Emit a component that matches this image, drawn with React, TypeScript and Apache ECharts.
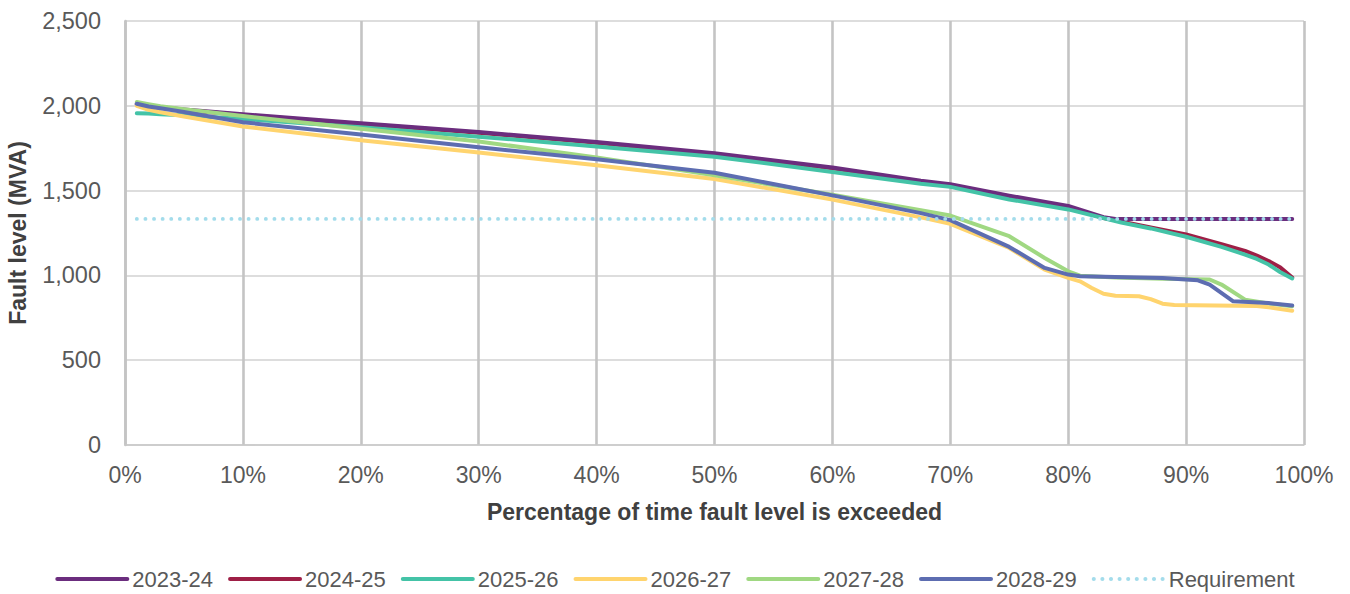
import React, { useEffect, useRef } from "react";
import * as echarts from "echarts";

const seriesNames = ["2023-24", "2024-25", "2025-26", "2026-27", "2027-28", "2028-29", "Requirement"];
const colors = ["#6B2D7E", "#9E1F46", "#44C3A7", "#FFD46E", "#A0D882", "#5D6DB1", "#A3DCEB"];

const s2023: [number, number][] = [
  [1, 2012], [2, 2002], [3, 1992], [5, 1978], [10, 1950], [20, 1897], [30, 1845], [40, 1787], [50, 1720],
  [60, 1636], [67.5, 1558], [70, 1537], [75, 1470], [80, 1410], [83, 1343], [84, 1333], [99, 1333],
];
const s2024: [number, number][] = [
  [1, 2008], [2, 1998], [3, 1989], [5, 1975], [10, 1946], [20, 1893], [30, 1841], [40, 1782], [50, 1715],
  [60, 1631], [67.5, 1553], [70, 1532], [75, 1465], [80, 1404], [83, 1338], [84, 1325], [85, 1310], [87, 1283],
  [90, 1242], [93, 1184], [95, 1145], [96, 1117], [97, 1085], [98, 1046], [99, 988],
];
const s2025: [number, number][] = [
  [1, 1956], [2, 1954], [3, 1950], [5, 1944], [10, 1922], [20, 1873], [30, 1818], [40, 1760], [50, 1700],
  [60, 1610], [67.5, 1540], [70, 1522], [75, 1448], [80, 1389], [84.5, 1312], [87, 1277], [90, 1228],
  [93, 1168], [95, 1123], [96, 1097], [97, 1064], [98, 1018], [99, 982],
];
const s2026: [number, number][] = [
  [1, 2000], [2, 1976], [3, 1962], [5, 1937], [10, 1878], [20, 1797], [30, 1724], [40, 1649], [50, 1568],
  [60, 1447], [67.5, 1342], [70, 1304], [75, 1162], [78, 1034], [80, 985], [81, 965], [82, 926], [83, 892],
  [84, 880], [86, 877], [87, 860], [88, 833], [89, 826], [96, 820], [97, 812], [99, 792],
];
const s2027: [number, number][] = [
  [1, 2022], [2, 2010], [3, 1998], [5, 1980], [10, 1940], [20, 1865], [30, 1790], [40, 1696], [50, 1590],
  [60, 1476], [67.5, 1385], [70, 1353], [75, 1231], [78, 1103], [80, 1024], [81, 998], [84, 988], [88, 980],
  [92, 976], [93, 946], [95, 857], [97, 835], [99, 818],
];
const s2028: [number, number][] = [
  [1, 2012], [2, 1996], [3, 1986], [5, 1964], [10, 1903], [20, 1831], [30, 1755], [40, 1685], [50, 1605],
  [60, 1472], [67.5, 1367], [70, 1326], [75, 1168], [78, 1044], [80, 1005], [81, 995], [84, 991], [88, 985],
  [91, 971], [92, 946], [94, 847], [97, 837], [99, 822],
];
const requirement: [number, number][] = [[1, 1333], [99, 1333]];

const xTicks = { min: 0, max: 100, interval: 10 };
const yTicks = { min: 0, max: 2500, interval: 500 };

const FONT = "'Liberation Sans', Arial, sans-serif";

export default function App() {
  const ref = useRef<HTMLDivElement>(null);
  useEffect(() => {
    document.body.style.margin = "0";
    const chart = echarts.init(ref.current!, undefined, { renderer: "svg" });
    const data = [s2023, s2024, s2025, s2026, s2027, s2028, requirement];
    const zs = [4, 3, 5, 6, 7, 8, 10];
    const series = data.map((d, i) => ({
      name: seriesNames[i],
      type: "line",
      data: d,
      showSymbol: false,
      symbol: "none",
      z: zs[i],
      color: colors[i],
      lineStyle:
        i === 6
          ? { color: colors[i], width: 3.8, type: [0.1, 8.5], cap: "round" }
          : { color: colors[i], width: 4, cap: "round", join: "round" },
    }));
    chart.setOption({
      animation: false,
      textStyle: { fontFamily: FONT },
      grid: { left: 125, right: 46, top: 21, bottom: 149, containLabel: false, outerBoundsMode: "none" },
      xAxis: {
        type: "value",
        ...xTicks,
        name: "Percentage of time fault level is exceeded",
        nameLocation: "middle",
        nameGap: 55,
        nameTextStyle: { fontFamily: FONT, fontSize: 23, fontWeight: "bold", color: "#404040" },
        axisLine: { show: true, lineStyle: { color: "#c8c8c8", width: 1.5 } },
        axisTick: { show: false },
        axisLabel: { formatter: "{value}%", fontFamily: FONT, fontSize: 23, color: "#595959", margin: 18 },
        splitLine: { show: true, lineStyle: { color: "#c4c4c4", width: 2.6 } },
      },
      yAxis: {
        type: "value",
        ...yTicks,
        name: "Fault level (MVA)",
        nameLocation: "middle",
        nameGap: 96,
        nameTextStyle: { fontFamily: FONT, fontSize: 23, fontWeight: "bold", color: "#404040" },
        axisLine: { show: true, lineStyle: { color: "#c4c4c4", width: 2.6 } },
        axisTick: { show: false },
        axisLabel: {
          formatter: (v: number) => v.toLocaleString("en-US"),
          fontFamily: FONT,
          fontSize: 23.5,
          color: "#595959",
          margin: 24,
        },
        splitLine: { show: true, lineStyle: { color: "#d2d2d2", width: 1.6 } },
      },
      legend: {
        data: seriesNames,
        left: "center",
        top: 563,
        itemWidth: 70,
        itemHeight: 14,
        itemGap: 15,
        itemStyle: { opacity: 0 },
        lineStyle: { width: 4 },
        textStyle: { fontFamily: FONT, fontSize: 22, color: "#595959" },
      },
      series,
    });
    return () => chart.dispose();
  }, []);
  return <div ref={ref} style={{ width: 1350, height: 594 }} />;
}
